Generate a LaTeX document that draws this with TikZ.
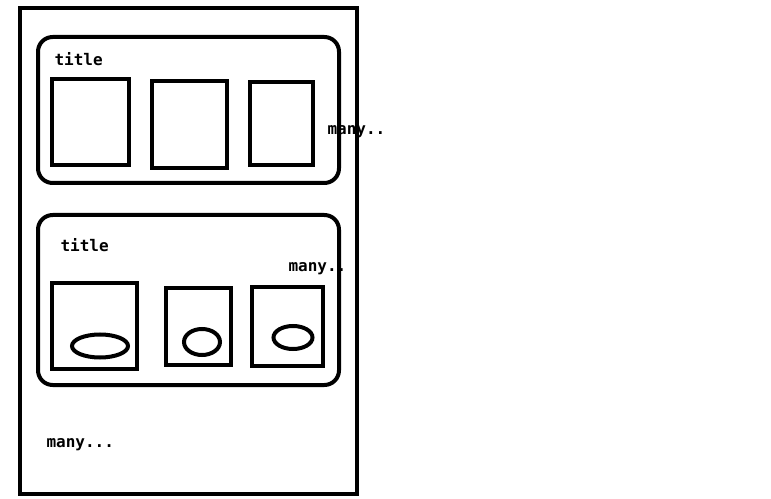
\documentclass[tikz,border=0pt]{standalone}
\usepackage{fontspec}
\setmonofont{DejaVu Sans Mono}
\usetikzlibrary{shapes.geometric}

\begin{document}
\begin{tikzpicture}[x=0.75pt,y=-0.75pt,line width=3pt,
    frame/.style={draw,rectangle,anchor=north west,inner sep=0pt,outer sep=0pt},
    group/.style={frame,rounded corners=11pt},
    blob/.style={draw,ellipse,inner sep=0pt},
    note/.style={anchor=base west,inner sep=0pt,font=\ttfamily\bfseries\fontsize{12}{14}\selectfont}]
    \useasboundingbox (0,0) rectangle (771,499);
    \node[frame,minimum width=252.75pt,minimum height=364.125pt] (page) at (20,8) {};
    % first group
    \node[group,minimum width=225.75pt,minimum height=109.5pt] (grpA) at (38,37) {};
    \node[note] (titleA) at (52.5,66) {title};
    \node[frame,minimum width=57.75pt,minimum height=64.5pt] (cellA1) at (52,79) {};
    \node[frame,minimum width=56.25pt,minimum height=65.25pt] (cellA2) at (152,81) {};
    \node[frame,minimum width=47.25pt,minimum height=62.25pt] (cellA3) at (250,82) {};
    \node[note] (moreA) at (325.5,135) {many..};
    % second group
    \node[group,minimum width=225.75pt,minimum height=127.5pt] (grpB) at (38,215) {};
    \node[note] (titleB) at (58.5,252) {title};
    \node[frame,minimum width=63.75pt,minimum height=64.5pt] (cellB1) at (52,283) {};
    \node[frame,minimum width=48.75pt,minimum height=57.75pt] (cellB2) at (166,288) {};
    \node[frame,minimum width=53.25pt,minimum height=59.25pt] (cellB3) at (252,287) {};
    \node[blob,minimum width=42pt,minimum height=17.25pt] (blobB1) at (100,346) {};
    \node[blob,minimum width=27pt,minimum height=19.5pt] (blobB2) at (202,342) {};
    \node[blob,minimum width=29.25pt,minimum height=17.25pt] (blobB3) at (293,337.5) {};
    \node[note] (moreB) at (286.5,271) {many..};
    \node[note] (moreGroups) at (44.5,447) {many...};
\end{tikzpicture}
\end{document}
